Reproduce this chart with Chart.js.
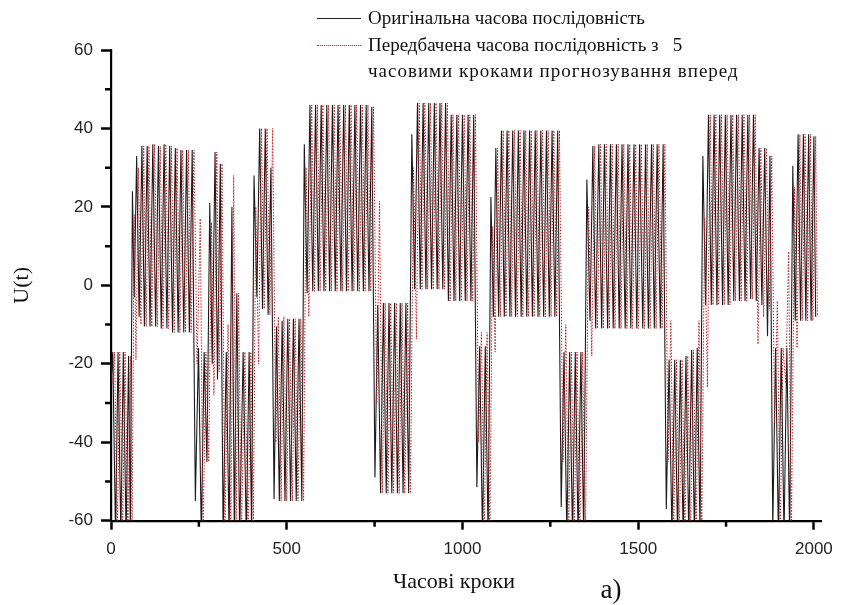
<!DOCTYPE html>
<html lang="uk">
<head>
<meta charset="utf-8">
<title>U(t)</title>
<script src="https://cdn.jsdelivr.net/npm/chart.js@4.4.1/dist/chart.umd.min.js"></script>
<style>
  html, body { margin: 0; padding: 0; background: #fff; }
  #frame { position: relative; width: 842px; height: 605px; overflow: hidden; }
  #plot { position: absolute; left: 0; top: 0; }
  .serif { position: absolute; font-family: "Liberation Serif", "Times New Roman", serif; color: #111; white-space: pre; }
  .row { position: absolute; left: 317px; height: 22px; line-height: 22px; font-size: 19px; }
  .row .key { position: absolute; left: 0; top: 11px; width: 44px; height: 0; }
  .row .txt { position: absolute; left: 51px; top: 0; }
  .row .txt.wide { letter-spacing: 1px; }
  .key.solid { border-top: 1px solid #222; }
  .key.dotted { border-top: 1px dotted #c8282d; }
  #xtitle { left: 454px; top: 568px; font-size: 22px; line-height: 26px; transform: translateX(-50%); }
  #panel { left: 611px; top: 573px; font-size: 27px; line-height: 32px; transform: translateX(-50%); }
</style>
</head>
<body>
<div id="frame">
  <canvas id="plot" width="842" height="605"></canvas>
  <div class="serif row" style="top:7px"><span class="key solid"></span><span class="txt">Оригінальна часова послідовність</span></div>
  <div class="serif row" style="top:34px"><span class="key dotted"></span><span class="txt">Передбачена часова послідовність з   5</span></div>
  <div class="serif row" style="top:60px"><span class="txt wide">часовими кроками прогнозування вперед</span></div>
  <div class="serif" id="xtitle">Часові кроки</div>
  <div class="serif" id="panel">а)</div>
</div>
<script>
// Forecast horizon, in time steps
const HORIZON = 5;

// Axis ticks
const xTicks = [0, 500, 1000, 1500, 2000];
const xMinor = [250, 750, 1250, 1750];
const yTicks = [-60, -40, -20, 0, 20, 40, 60];
const yMinor = [-50, -30, -10, 10, 30, 50];

// Turning points of the signal (time step of each peak / trough)
const steps = [
  0, 5, 13, 20, 28, 35, 43, 50, 55,
  61, 66, 73, 80, 88, 95, 103, 111, 119, 127, 135, 143, 151, 159, 167, 175, 183, 191, 199, 207, 215, 223, 231,
  240, 249, 257, 265, 273,
  281, 288, 296, 303, 311,
  319, 328, 336, 344, 351, 358, 366, 376, 385, 393, 400,
  407, 415, 423, 431, 439, 447, 455,
  464, 471, 479, 487, 495, 503, 511, 519, 527, 535, 543,
  550, 558, 566, 574, 582, 590, 598, 606, 614, 622, 630, 638, 646, 654, 662, 670, 678, 686, 694, 702, 710, 718, 726, 734, 742,
  751, 759, 767, 775, 783, 791, 799, 807, 815, 823, 831, 839, 847,
  856, 864, 872, 880, 888, 896, 904, 912, 920, 928, 936, 944, 952, 960, 968, 976, 984, 992, 1000, 1008, 1016, 1024, 1032,
  1041, 1049, 1057, 1065, 1073,
  1081, 1088, 1095, 1103, 1111, 1119, 1127, 1135, 1143, 1151, 1159, 1167, 1175, 1183, 1191, 1199, 1207, 1215, 1223, 1231, 1239, 1247, 1255, 1263, 1271,
  1281, 1289, 1297, 1305, 1313, 1321, 1329, 1337, 1345,
  1354, 1363, 1371, 1379, 1388, 1396, 1404, 1413, 1421, 1429, 1438, 1446, 1454, 1463, 1471, 1479, 1488, 1496, 1504, 1513, 1521, 1529, 1538, 1546, 1554, 1563, 1571,
  1580, 1588, 1596, 1604, 1612, 1620, 1628, 1636, 1644, 1652, 1660, 1668, 1676,
  1684, 1692, 1700, 1708, 1716, 1724, 1732, 1740, 1748, 1756, 1764, 1772, 1780, 1788, 1796, 1804, 1812, 1820, 1828,
  1836, 1844, 1852, 1860, 1868, 1875,
  1883, 1891, 1899, 1907, 1915, 1923, 1931,
  1940, 1947, 1955, 1962, 1970, 1977, 1985, 1992, 2000, 2005
];

// Original series U(t) at those steps
const actual = [
  -25, -17, -64, -17, -64, -17, -64, -18, -62,
  24, -3, 33, -8, 35.5, -10.5, 35.5, -10.5, 36, -10.5, 35.5, -11, 36, -11, 35.5, -12, 35, -12, 34.5, -12, 34.5, -12, 34.5,
  -55, -16, -64, -17, -45,
  21, -20, 34, -24, 31,
  -64, -17, -64, 20, -64, -2, -64, -17, -64, -17, -62,
  28, -3, 40, -6, 40, -7.5, 30,
  -54.5, -10.5, -55, -9, -55, -8.5, -55, -8.5, -55, -8.5, -55,
  36, -2, 46, -1.5, 46, -1.5, 46, -1.5, 46, -1.5, 46, -1.5, 46, -1.5, 46, -1.5, 46, -1.5, 46, -1.5, 46, -1.5, 46, -1.5, 45.5,
  -49, -5, -53, -4.5, -53, -4.5, -53, -4.5, -53, -4.5, -53, -4.5, -53,
  38.5, -1, 46.5, -1, 46.5, -1, 46.5, -1, 46.5, -1, 46.5, -1, 46.5, -4, 43.5, -4, 43.5, -4, 43.5, -4, 43.5, -4, 43.5,
  -51.5, -15.5, -64, -15.5, -64,
  22.5, -8, 35, -8, 39.5, -8, 39.5, -8, 39.5, -8, 39.5, -8, 39.5, -8, 39.5, -8, 39.5, -8, 39.5, -8, 39.5, -8, 39.5, -8, 39.5,
  -56.5, -17, -64, -17, -64, -17, -64, -17, -64,
  27, -9, 35.5, -11, 36, -11, 36, -11, 36, -11, 36, -11, 36, -11, 36, -11, 36, -11, 36, -11, 36, -11, 36, -11, 36, -11, 36,
  -57, -19, -64, -19, -64, -19, -64, -18, -64, -16.5, -64, -16, -63,
  33, -5, 43.5, -5, 43.5, -5, 43.5, -5, 43.5, -5, 43.5, -4, 43.5, -4, 43.5, -4, 43.5, -3.5, 43.5,
  -4, 35, -5, 35, -13, 33,
  -62, -16, -64, -16, -64, -16, -64,
  30.5, -9, 38.5, -9, 38.5, -9, 38.5, -9, 38, -8
];

// Forecast made HORIZON steps ahead, for the same turning points
const predicted = [
  -25, -17, -64, -17, -64, -17, -64, -18, -62,
  18, -19, 30, -10, 35.5, -10.5, 35.5, -10.5, 36, -10.5, 35.5, -11, 36, -11, 35.5, -12, 35, -12, 34.5, -12, 34.5, -12, 34.5,
  -20, 17, -64, -17, -45,
  16, -28, 34, -22, 31,
  -64, -10, -64, 28, -60, -2, -64, -17, -64, -17, -62,
  20, -20, 40, -6, 40, -7.5, 40,
  -40, -8, -55, -8, -55, -8.5, -55, -8.5, -55, -8.5, -55,
  30, -8, 46, -1.5, 46, -1.5, 46, -1.5, 46, -1.5, 46, -1.5, 46, -1.5, 46, -1.5, 46, -1.5, 46, -1.5, 46, -1.5, 46, -1.5, 45.5,
  -30, 21.5, -53, -4.5, -53, -4.5, -53, -4.5, -53, -4.5, -53, -4.5, -53,
  30, -13.7, 46.5, -1, 46.5, -1, 46.5, -1, 46.5, -1, 46.5, -1, 46.5, -4, 43.5, -4, 43.5, -4, 43.5, -4, 43.5, -4, 43.5,
  -40, -12, -64, -12, -64,
  15, -17, 35, -8, 39.5, -8, 39.5, -8, 39.5, -8, 39.5, -8, 39.5, -8, 39.5, -8, 39.5, -8, 39.5, -8, 39.5, -8, 39.5, -8, 39.5,
  -45, -10, -64, -17, -64, -17, -64, -17, -64,
  20, -18, 35.5, -11, 36, -11, 36, -11, 36, -11, 36, -11, 36, -11, 36, -11, 36, -11, 36, -11, 36, -11, 36, -11, 36, -11, 36,
  -45, -9, -64, -19, -64, -19, -64, -18, -64, -16.5, -64, -9, -63,
  17, -26, 43.5, -5, 43.5, -5, 43.5, -5, 43.5, -5, 43.5, -4, 43.5, -4, 43.5, -4, 43.5, -3.5, 43.5,
  -15, 35, -8, 35, -6, 33,
  -35, -4, -64, -16, -25, 8.6, -64,
  25, -16, 38.5, -9, 38.5, -9, 38.5, -9, 38, -8
];

const actualPoints = steps.map((s, i) => ({ x: s, y: actual[i] }));
const predictedPoints = steps.map((s, i) => ({ x: s + HORIZON, y: predicted[i] }));

// Short outward ticks between the labelled ones
const minorTicks = {
  id: 'minorTicks',
  afterDraw(chart) {
    const { ctx, scales: { x, y } } = chart;
    ctx.save();
    ctx.strokeStyle = '#000';
    ctx.lineWidth = 2.5;
    ctx.beginPath();
    yMinor.forEach(v => {
      const py = y.getPixelForValue(v);
      ctx.moveTo(y.right - 6, py);
      ctx.lineTo(y.right, py);
    });
    xMinor.forEach(v => {
      const px = x.getPixelForValue(v);
      ctx.moveTo(px, x.top);
      ctx.lineTo(px, x.top + 6);
    });
    ctx.stroke();
    ctx.restore();
  }
};

const tickFont = { family: '"Liberation Sans", Arial, sans-serif', size: 17 };
const plainNumber = v => String(v);
const axisGrid = { drawOnChartArea: false, drawTicks: true, tickLength: 10, tickWidth: 2.5, tickColor: '#000' };
const axisBorder = { display: true, color: '#000', width: 2.2 };

new Chart(document.getElementById('plot'), {
  type: 'line',
  data: {
    datasets: [
      {
        label: 'Оригінальна часова послідовність',
        data: actualPoints,
        borderColor: '#1c1c1c',
        borderWidth: 1.1,
        pointRadius: 0,
        order: 1
      },
      {
        label: 'Передбачена часова послідовність з 5 часовими кроками прогнозування вперед',
        data: predictedPoints,
        borderColor: '#c02428',
        borderWidth: 1,
        borderDash: [1.5, 1.5],
        pointRadius: 0,
        order: 0
      }
    ]
  },
  options: {
    responsive: false,
    animation: false,
    devicePixelRatio: 1,
    parsing: false,
    normalized: true,
    layout: { padding: { top: 50, right: 17, left: 0, bottom: 0 } },
    plugins: { legend: { display: false }, tooltip: { enabled: false } },
    elements: { line: { tension: 0 } },
    scales: {
      x: {
        type: 'linear',
        min: 0,
        max: 2022,
        afterBuildTicks: s => { s.ticks = xTicks.map(v => ({ value: v })); },
        afterFit: s => { s.height = 84.3; },
        ticks: { font: tickFont, color: '#222', padding: 9, maxRotation: 0, callback: plainNumber },
        grid: Object.assign({}, axisGrid, { tickLength: 9 }),
        border: axisBorder
      },
      y: {
        type: 'linear',
        min: -60,
        max: 60,
        afterBuildTicks: s => { s.ticks = yTicks.map(v => ({ value: v })); },
        afterFit: s => { s.width = 111; },
        ticks: { font: tickFont, color: '#222', padding: 8, callback: plainNumber },
        grid: axisGrid,
        border: axisBorder,
        title: {
          display: true,
          text: 'U(t)',
          color: '#111',
          font: { family: '"Liberation Serif", "Times New Roman", serif', size: 22 },
          padding: { top: 9, bottom: 0 }
        }
      }
    }
  },
  plugins: [minorTicks]
});
</script>
</body>
</html>
